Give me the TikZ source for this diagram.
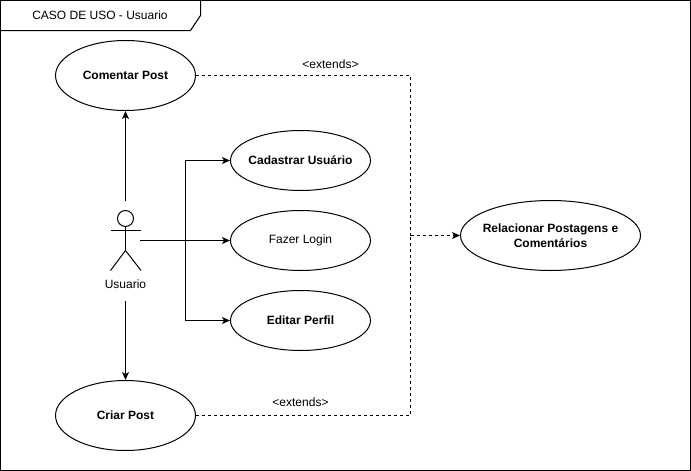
\documentclass[tikz,border=0pt]{standalone}
\usepackage{fontspec}
\setmainfont{Liberation Sans}
\usetikzlibrary{arrows.meta,shapes.geometric}
\tikzset{
    usecase/.style={draw, ellipse, line width=1pt, inner sep=-30pt, align=center, font=\fontsize{12}{15}\selectfont\bfseries},
    plainlabel/.style={inner sep=0pt, font=\fontsize{12}{15}\selectfont},
    assoc/.style={line width=1pt, -{Stealth[length=8pt,width=7pt,inset=2pt]}},
    extend/.style={assoc, dash pattern=on 3pt off 3pt},
}
\begin{document}
\begin{tikzpicture}[x=1pt, y=-1pt]
    \useasboundingbox (0,0) rectangle (691,471);
    \draw[line width=1pt] (0.5,0.5) rectangle (690.5,470.5);
    \draw[line width=1pt] (0.5,30.5) -- (190.5,30.5) -- (200.5,15.5) -- (200.5,0.5);
    \node[plainlabel] (title) at (100,15) {CASO DE USO - Usuario};
    \node[usecase, minimum width=140pt, minimum height=70pt] (comentar)   at (125.5,75.5)  {Comentar Post};
    \node[usecase, minimum width=140pt, minimum height=60pt] (cadastrar)  at (300.5,160.5) {Cadastrar Usuário};
    \node[usecase, minimum width=140pt, minimum height=60pt, font=\fontsize{12}{15}\selectfont] (login) at (300.5,240.5) {Fazer Login};
    \node[usecase, minimum width=140pt, minimum height=60pt] (editar)     at (300.5,320.5) {Editar Perfil};
    \node[usecase, minimum width=180pt, minimum height=70pt] (relacionar) at (550.5,235.5) {Relacionar Postagens e\\Comentários};
    \node[usecase, minimum width=140pt, minimum height=70pt] (criar)      at (125.5,415.5) {Criar Post};
    % actor
    \draw[line width=1pt] (125.5,218.5) circle (8);
    \draw[line width=1pt] (125.5,226.5) -- (125.5,250.5);
    \draw[line width=1pt] (110.5,230.5) -- (141,230.5);
    \draw[line width=1pt] (110.5,270.5) -- (125.5,250.5) -- (141,270.5);
    \node[plainlabel] (usuario) at (125.5,284) {Usuario};
    \coordinate (actortop)    at (125.5,200.5);
    \coordinate (actorbottom) at (125.5,300.5);
    \coordinate (actorright)  at (140,240.5);
    \coordinate (branch)      at (185.5,240.5);
    \coordinate (join)        at (410.5,235.5);
    % solid connectors
    \draw[assoc] (actortop) -- (comentar);
    \draw[assoc] (actorbottom) -- (criar);
    \draw[assoc] (actorright) -- (login);
    \draw[assoc] (branch) |- (cadastrar);
    \draw[assoc] (branch) |- (editar);
    % dashed connectors
    \draw[extend, -] (comentar) -| (join);
    \draw[extend, -] (criar) -| (join);
    \draw[extend] (join) -- (relacionar);
    \node[plainlabel] (extendtop)    at (330.5,64) {<extends>};
    \node[plainlabel] (extendbottom) at (300.5,402) {<extends>};
\end{tikzpicture}
\end{document}
